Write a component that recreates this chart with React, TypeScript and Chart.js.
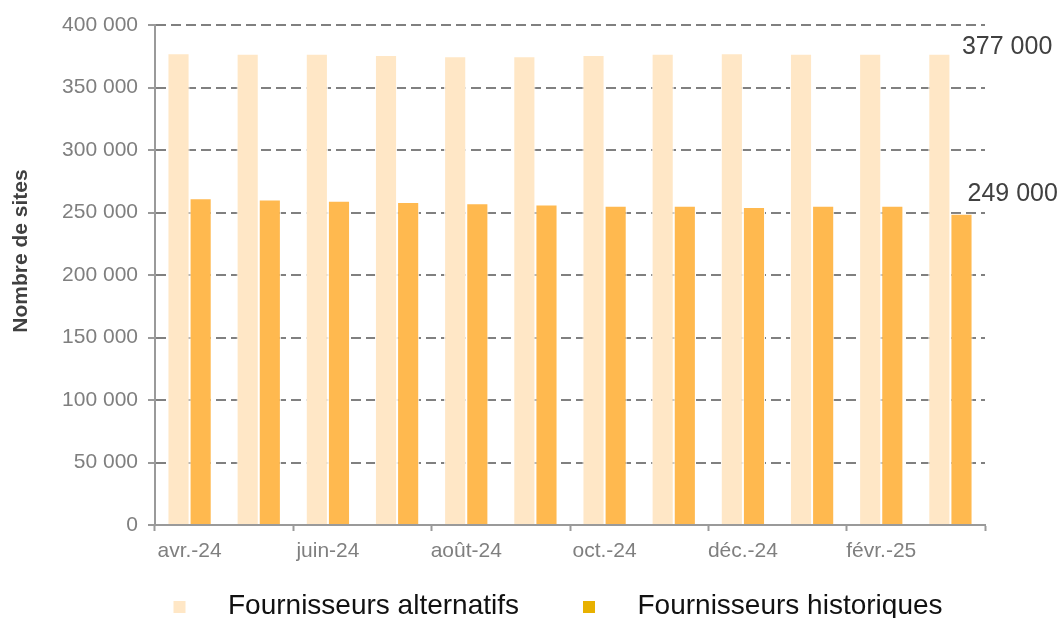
import React, { useEffect, useRef } from 'react';
import { Chart, registerables } from 'chart.js';

Chart.register(...registerables);

// ---- Data ----
const categories = [
  'avr.-24', 'mai-24', 'juin-24', 'juil.-24', 'août-24', 'sept.-24',
  'oct.-24', 'nov.-24', 'déc.-24', 'janv.-25', 'févr.-25', 'mars-25',
];
const alternatifs = [377500, 377000, 377000, 376000, 375000, 375000, 376000, 377000, 377500, 377000, 377000, 377000];
const historiques = [261500, 260500, 259500, 258500, 257500, 256500, 255500, 255500, 254500, 255500, 255500, 249000];
const seriesNames = ['Fournisseurs alternatifs', 'Fournisseurs historiques'];
const yAxisTitle = 'Nombre de sites';
const yMin = 0;
const yMax = 400000;
const yStep = 50000;

// ---- Styles ----
const FONT = "'Liberation Sans', Arial, sans-serif";
const LIGHT = '#FFE7C6';
const DARK = '#FFB94F';
const LEGEND_COLORS = ['#FFE7C6', '#E8B100'];
const AXIS = '#9a9a9a';
const GRID = '#808080';
const TICK_TEXT = '#7f7f7f';

const fmt = (v: number) => String(Math.round(v)).replace(/\B(?=(\d{3})+(?!\d))/g, ' ');

export default function App() {
  const ref = useRef<HTMLCanvasElement>(null);

  useEffect(() => {
    const canvas = ref.current!;

    const overlay = {
      id: 'overlay',
      afterDatasetsDraw(chart: any) {
        const ctx = chart.ctx as CanvasRenderingContext2D;
        const last = categories.length - 1;
        ctx.save();
        ctx.fillStyle = '#404040';
        ctx.font = `25px ${FONT}`;
        ctx.textAlign = 'left';
        ctx.textBaseline = 'alphabetic';
        const e0 = chart.getDatasetMeta(0).data[last].getProps(['x', 'y', 'width'], true);
        ctx.fillText(fmt(alternatifs[last]), e0.x + e0.width / 2 + 11.5, e0.y);
        const e1 = chart.getDatasetMeta(1).data[last].getProps(['x', 'y', 'width'], true);
        ctx.fillText(fmt(historiques[last]), e1.x + e1.width / 2 - 5, e1.y - 13);
        ctx.restore();
      },
      afterDraw(chart: any) {
        const ctx = chart.ctx as CanvasRenderingContext2D;
        ctx.save();
        ctx.translate(21, 251);
        ctx.rotate(-Math.PI / 2);
        ctx.font = `bold 21px ${FONT}`;
        ctx.fillStyle = '#404040';
        ctx.textAlign = 'center';
        ctx.textBaseline = 'middle';
        ctx.fillText(yAxisTitle, 0, 0);
        ctx.restore();

        ctx.save();
        const items = [
          { x: 173.5, tx: 228 },
          { x: 583, tx: 637.5 },
        ];
        ctx.font = `28px ${FONT}`;
        ctx.textAlign = 'left';
        ctx.textBaseline = 'alphabetic';
        items.forEach((it, i) => {
          ctx.fillStyle = LEGEND_COLORS[i];
          ctx.fillRect(it.x, 601, 12, 12);
          ctx.fillStyle = '#111';
          ctx.fillText(seriesNames[i], it.tx, 614);
        });
        ctx.restore();
      },
    };

    const chart = new Chart(canvas, {
      type: 'bar',
      data: {
        labels: categories,
        datasets: [
          {
            label: seriesNames[0],
            data: alternatifs,
            backgroundColor: LIGHT,
            borderColor: '#ffffff',
            borderWidth: 1,
          },
          {
            label: seriesNames[1],
            data: historiques,
            backgroundColor: DARK,
            borderColor: '#ffffff',
            borderWidth: 1,
          },
        ],
      },
      options: {
        responsive: false,
        animation: false,
        devicePixelRatio: 1,
        layout: { padding: { left: 0, right: 78, top: 25, bottom: 48 } },
        plugins: { legend: { display: false }, tooltip: { enabled: false } },
        datasets: { bar: { categoryPercentage: 0.64, barPercentage: 1 } },
        scales: {
          x: {
            offset: true,
            grid: {
              offset: true,
              drawOnChartArea: false,
              tickLength: 6,
              tickWidth: 2,
              tickColor: (c: any) =>
                c.index === undefined || c.index % 2 === 0 ? AXIS : 'rgba(0,0,0,0)',
            },
            border: { color: AXIS, width: 2 },
            ticks: {
              autoSkip: false,
              maxRotation: 0,
              minRotation: 0,
              padding: 8,
              color: TICK_TEXT,
              font: { family: FONT, size: 21 },
              callback: (_v: any, i: number) => (i % 2 === 0 ? categories[i] : ''),
            },
            afterFit: (s: any) => {
              s.height = 45;
            },
          },
          y: {
            min: yMin,
            max: yMax,
            ticks: {
              stepSize: yStep,
              padding: 10,
              color: TICK_TEXT,
              font: { family: FONT, size: 21 },
              callback: (v: any) => fmt(Number(v)),
            },
            grid: {
              color: GRID,
              lineWidth: 2,
              tickLength: 7,
              tickColor: AXIS,
              tickWidth: 2,
              tickBorderDash: [],
            },
            border: { color: AXIS, width: 2, dash: [10, 5] },
            afterFit: (s: any) => {
              s.width = 155;
            },
          },
        },
      },
      plugins: [overlay],
    });

    return () => chart.destroy();
  }, []);

  return (
    <div style={{ position: 'absolute', left: 0, top: 0, width: 1063, height: 618, background: '#ffffff' }}>
      <canvas ref={ref} width={1063} height={618} style={{ display: 'block', width: 1063, height: 618 }} />
    </div>
  );
}
